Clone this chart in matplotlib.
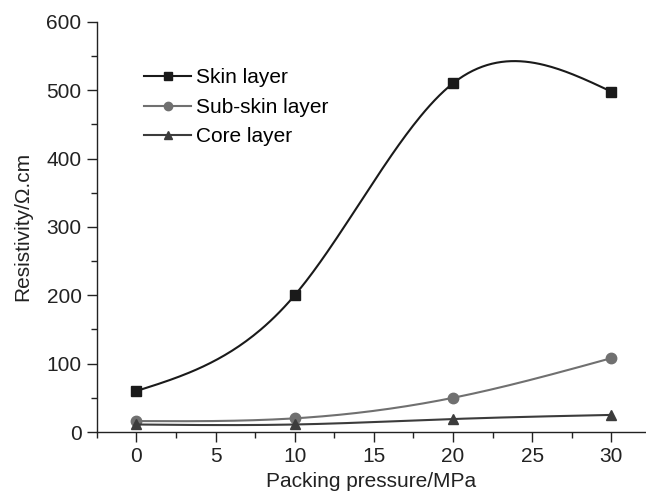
import numpy as np
import matplotlib
matplotlib.use("Agg")
import matplotlib.pyplot as plt
from matplotlib.ticker import MultipleLocator

plt.rcParams['font.family'] = ['Liberation Sans', 'DejaVu Sans']

# data
pressure = [0, 10, 20, 30]
skin = [60, 200, 510, 498]
sub_skin = [16, 20, 50, 108]
core = [11, 11, 19, 25]


# natural cubic spline through the points (as the original smooth lines)
def spline(x, y, n=200):
    x = np.asarray(x, float)
    y = np.asarray(y, float)
    h = np.diff(x)
    m = len(x)
    A = np.zeros((m, m))
    b = np.zeros(m)
    A[0, 0] = A[-1, -1] = 1
    for i in range(1, m - 1):
        A[i, i - 1] = h[i - 1]
        A[i, i] = 2 * (h[i - 1] + h[i])
        A[i, i + 1] = h[i]
        b[i] = 6 * ((y[i + 1] - y[i]) / h[i] - (y[i] - y[i - 1]) / h[i - 1])
    M = np.linalg.solve(A, b)
    xs = np.linspace(x[0], x[-1], n)
    idx = np.clip(np.searchsorted(x, xs) - 1, 0, m - 2)
    x0, x1 = x[idx], x[idx + 1]
    hh = x1 - x0
    a = (x1 - xs) / hh
    c = (xs - x0) / hh
    ys = (a * y[idx] + c * y[idx + 1]
          + ((a ** 3 - a) * M[idx] + (c ** 3 - c) * M[idx + 1]) * hh ** 2 / 6)
    return xs, ys


fig = plt.figure(figsize=(6.46, 4.96), dpi=100)
ax = fig.add_axes([0.150, 0.129, 0.85, 0.827])

series = [
    (skin, "Skin layer", "#1a1a1a", "s"),
    (sub_skin, "Sub-skin layer", "#707070", "o"),
    (core, "Core layer", "#3c3c3c", "^"),
]

for vals, label, col, mk in series:
    xs, ys = spline(pressure, vals)
    ax.plot(xs, ys, color=col, linewidth=1.5)
    ax.plot(pressure, vals, linestyle='none', marker=mk, color=col, markersize=7.5)
    # proxy for the legend
    ax.plot([], [], color=col, marker=mk, markersize=6, linewidth=1.5, label=label)

ax.set_xlim(-2.5, 32.2)
ax.set_ylim(0, 600)
ax.xaxis.set_major_locator(MultipleLocator(5))
ax.xaxis.set_minor_locator(MultipleLocator(2.5))
ax.yaxis.set_major_locator(MultipleLocator(100))
ax.yaxis.set_minor_locator(MultipleLocator(50))

for s in ['top', 'right']:
    ax.spines[s].set_visible(False)
for s in ['left', 'bottom']:
    ax.spines[s].set_linewidth(1.0)
    ax.spines[s].set_color('#222222')

fs = 15
ax.tick_params(which='major', length=7, width=1, labelsize=fs, colors='#222222', pad=4)
ax.tick_params(which='minor', length=4, width=1, colors='#222222')

ax.set_xlabel("Packing pressure/MPa", fontsize=fs, color='#222222', labelpad=4)
ax.set_ylabel("Resistivity/Ω.cm", fontsize=fs, color='#222222', labelpad=10)

ax.legend(loc='upper left', bbox_to_anchor=(0.052, 0.932), frameon=False,
          fontsize=fs, handlelength=2.25, handletextpad=0.25, labelspacing=0.5)

fig.savefig("out.png", dpi=100)
